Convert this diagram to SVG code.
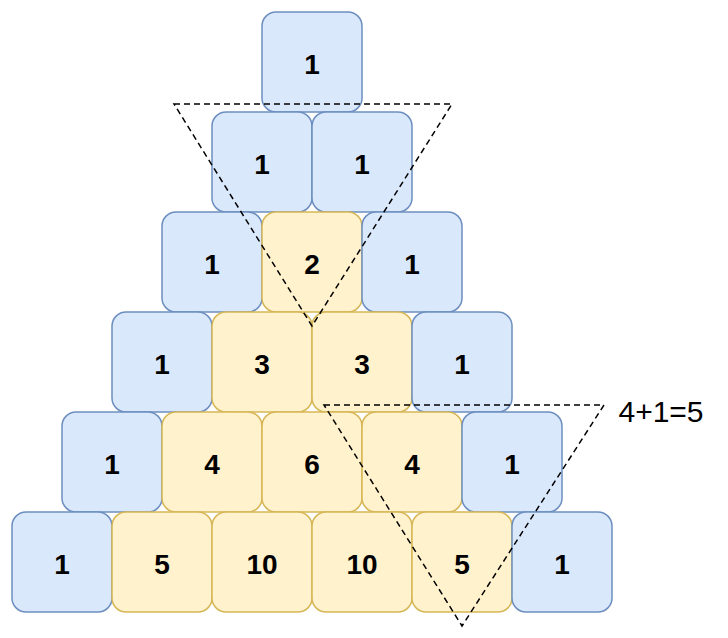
<svg xmlns="http://www.w3.org/2000/svg" width="728" height="638" viewBox="0 0 728 638">
<style>
.b rect{fill:#dae8fc;stroke:#6c8ebf;stroke-width:1.5}
.y rect{fill:#fff2cc;stroke:#d6b656;stroke-width:1.5}
text{font-family:"Liberation Sans",Arial,sans-serif;font-weight:bold;font-size:28px;text-anchor:middle;dominant-baseline:central;fill:#000}
.t{fill:none;stroke:#000;stroke-width:1.5;stroke-dasharray:6 4}
</style>
<rect width="728" height="638" fill="#fff"/>
<g id="r0c0" class="b"><rect x="262" y="12" width="100" height="100" rx="14"/><text x="312" y="64">1</text></g>
<g id="r1c0" class="b"><rect x="212" y="112" width="100" height="100" rx="14"/><text x="262" y="164">1</text></g>
<g id="r1c1" class="b"><rect x="312" y="112" width="100" height="100" rx="14"/><text x="362" y="164">1</text></g>
<g id="r2c0" class="b"><rect x="162" y="212" width="100" height="100" rx="14"/><text x="212" y="264">1</text></g>
<g id="r2c1" class="y"><rect x="262" y="212" width="100" height="100" rx="14"/><text x="312" y="264">2</text></g>
<g id="r2c2" class="b"><rect x="362" y="212" width="100" height="100" rx="14"/><text x="412" y="264">1</text></g>
<g id="r3c0" class="b"><rect x="112" y="312" width="100" height="100" rx="14"/><text x="162" y="364">1</text></g>
<g id="r3c1" class="y"><rect x="212" y="312" width="100" height="100" rx="14"/><text x="262" y="364">3</text></g>
<g id="r3c2" class="y"><rect x="312" y="312" width="100" height="100" rx="14"/><text x="362" y="364">3</text></g>
<g id="r3c3" class="b"><rect x="412" y="312" width="100" height="100" rx="14"/><text x="462" y="364">1</text></g>
<g id="r4c0" class="b"><rect x="62" y="412" width="100" height="100" rx="14"/><text x="112" y="464">1</text></g>
<g id="r4c1" class="y"><rect x="162" y="412" width="100" height="100" rx="14"/><text x="212" y="464">4</text></g>
<g id="r4c2" class="y"><rect x="262" y="412" width="100" height="100" rx="14"/><text x="312" y="464">6</text></g>
<g id="r4c3" class="y"><rect x="362" y="412" width="100" height="100" rx="14"/><text x="412" y="464">4</text></g>
<g id="r4c4" class="b"><rect x="462" y="412" width="100" height="100" rx="14"/><text x="512" y="464">1</text></g>
<g id="r5c0" class="b"><rect x="12" y="512" width="100" height="100" rx="14"/><text x="62" y="564">1</text></g>
<g id="r5c1" class="y"><rect x="112" y="512" width="100" height="100" rx="14"/><text x="162" y="564">5</text></g>
<g id="r5c2" class="y"><rect x="212" y="512" width="100" height="100" rx="14"/><text x="262" y="564">10</text></g>
<g id="r5c3" class="y"><rect x="312" y="512" width="100" height="100" rx="14"/><text x="362" y="564">10</text></g>
<g id="r5c4" class="y"><rect x="412" y="512" width="100" height="100" rx="14"/><text x="462" y="564">5</text></g>
<g id="r5c5" class="b"><rect x="512" y="512" width="100" height="100" rx="14"/><text x="562" y="564">1</text></g>
<g id="connectors">
<polygon class="t" points="174,104 452,104 312,326"/>
<polygon class="t" points="324,405 604,405 462,626"/>
</g>
<g id="label"><text x="661" y="411" style="font-weight:normal;font-size:30px">4+1=5</text></g>
</svg>
